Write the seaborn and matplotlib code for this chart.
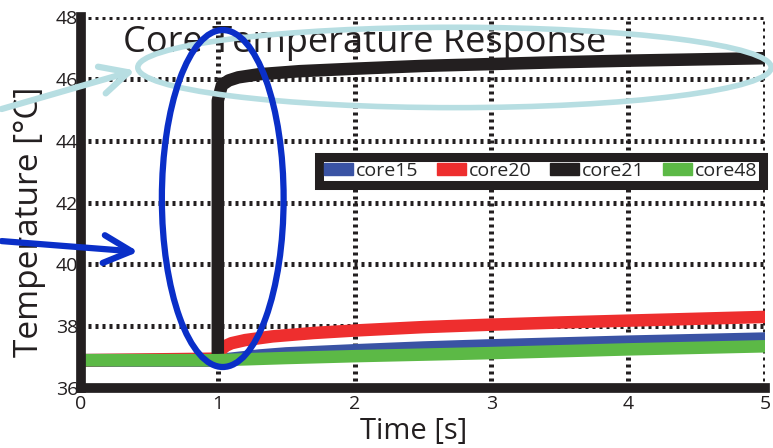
import numpy as np
import pandas as pd
import matplotlib
matplotlib.use("Agg")
import matplotlib.pyplot as plt
import seaborn as sns
from matplotlib.patches import Ellipse, Patch

# --- Data ---
CORES = ["core15", "core20", "core21", "core48"]
COLORS = ["#3A53A4", "#EE2E2E", "#231F20", "#5CB946"]

t_core15 = [0.0, 1.0, 1.1, 1.3, 1.5, 2.0, 2.5, 3.0, 3.5, 4.0, 4.5, 5.0]
v_core15 = [36.9, 36.9, 36.95, 37.05, 37.12, 37.22, 37.31, 37.38, 37.44, 37.5, 37.55, 37.6]

t_core20 = [0.0, 1.0, 1.02, 1.05, 1.1, 1.2, 1.4, 1.7, 2.0, 2.5, 3.0, 3.5, 4.0, 4.5, 5.0]
v_core20 = [36.9, 36.95, 37.2, 37.35, 37.45, 37.55, 37.67, 37.78, 37.86, 37.97, 38.05, 38.12, 38.18, 38.24, 38.3]

t_core21 = [0.0, 1.0, 1.0, 1.03, 1.08, 1.15, 1.3, 1.6, 2.0, 2.5, 3.0, 3.5, 4.0, 4.5, 5.0]
v_core21 = [36.9, 36.9, 45.3, 45.8, 45.95, 46.05, 46.15, 46.25, 46.33, 46.42, 46.48, 46.54, 46.59, 46.63, 46.67]

t_core48 = [0.0, 1.0, 1.5, 2.0, 2.5, 3.0, 3.5, 4.0, 4.5, 5.0]
v_core48 = [36.9, 36.9, 36.97, 37.03, 37.08, 37.13, 37.19, 37.25, 37.3, 37.35]

X_TICKS = [0, 1, 2, 3, 4, 5]
Y_TICKS = [36, 38, 40, 42, 44, 46, 48]

INK = "#231F20"
LIGHT_BLUE = "#B7DEE2"
DARK_BLUE = "#0A2FC8"


def build_frame():
    parts = []
    for name, t, v in [("core15", t_core15, v_core15), ("core20", t_core20, v_core20),
                       ("core21", t_core21, v_core21), ("core48", t_core48, v_core48)]:
        parts.append(pd.DataFrame({"Time": t, "Temp": v, "core": name}))
    return pd.concat(parts, ignore_index=True)


def plot_core_temperature():
    sns.set_style("white")
    plt.rcParams["font.family"] = ["Open Sans", "DejaVu Sans"]

    fig = plt.figure(figsize=(7.73, 4.48), dpi=100)
    ax = fig.add_axes([0.1048, 0.1339, 0.8849, 0.828])

    df = build_frame()
    sns.lineplot(data=df, x="Time", y="Temp", hue="core", hue_order=CORES,
                 palette=COLORS, estimator=None, sort=False, linewidth=9,
                 solid_joinstyle="round", ax=ax, legend=False, zorder=3)

    ax.set_xlim(0, 5)
    ax.set_ylim(36, 48)
    ax.set_xticks(X_TICKS)
    ax.set_yticks(Y_TICKS)
    ax.tick_params(axis="both", length=0, labelsize=14, colors=INK)
    ax.tick_params(axis="x", pad=5)
    ax.tick_params(axis="y", pad=2)

    # heavy dotted grid
    ax.grid(True, color=INK, linewidth=3.6, linestyle=(0, (0.6, 0.8)))
    ax.set_axisbelow(True)

    for side in ["top", "right"]:
        ax.spines[side].set_visible(False)
    for side in ["left", "bottom"]:
        ax.spines[side].set_linewidth(7)
        ax.spines[side].set_color(INK)
        ax.spines[side].set_zorder(4)

    ax.set_xlabel("Time [s]", fontsize=21, color=INK)
    ax.xaxis.set_label_coords(0.486, -0.078)
    ax.set_ylabel("Temperature [°C]", fontsize=24, color=INK, va="center")
    ax.yaxis.set_label_coords(-0.075, 0.449)
    ax.text(0.415, 0.905, "Core Temperature Response", transform=ax.transAxes,
            ha="center", va="baseline", fontsize=26, color=INK, zorder=5)

    handles = [Patch(facecolor=c, edgecolor=c) for c in COLORS]
    leg = ax.legend(handles, CORES, ncol=4, loc="center", bbox_to_anchor=(0.672, 0.585),
                    fontsize=14, frameon=True, fancybox=False, framealpha=1,
                    handlelength=1.5, handleheight=0.62, handletextpad=0.15,
                    columnspacing=0.95, borderpad=0.25, borderaxespad=0)
    leg.get_frame().set_edgecolor(INK)
    leg.get_frame().set_linewidth(6.5)
    leg.set_zorder(6)

    # --- Annotations (ellipses + arrows) ---
    ax.add_patch(Ellipse((2.73, 46.37), 4.63, 2.6, fill=False, edgecolor=LIGHT_BLUE,
                         linewidth=4, clip_on=False, zorder=7))
    ax.annotate("", xy=(0.416, 46.3), xytext=(-0.6, 45.0),
                arrowprops=dict(arrowstyle="->,head_length=2.0,head_width=1.0",
                                color=LIGHT_BLUE, lw=4.5), annotation_clip=False, zorder=7)
    ax.add_patch(Ellipse((1.036, 42.13), 0.89, 10.9, fill=False, edgecolor=DARK_BLUE,
                         linewidth=4.5, clip_on=False, zorder=8))
    ax.annotate("", xy=(0.44, 40.4), xytext=(-0.6, 40.76),
                arrowprops=dict(arrowstyle="->,head_length=2.0,head_width=1.0",
                                color=DARK_BLUE, lw=4.5), annotation_clip=False, zorder=8)

    fig.savefig("out.png", dpi=100)


if __name__ == "__main__":
    plot_core_temperature()
